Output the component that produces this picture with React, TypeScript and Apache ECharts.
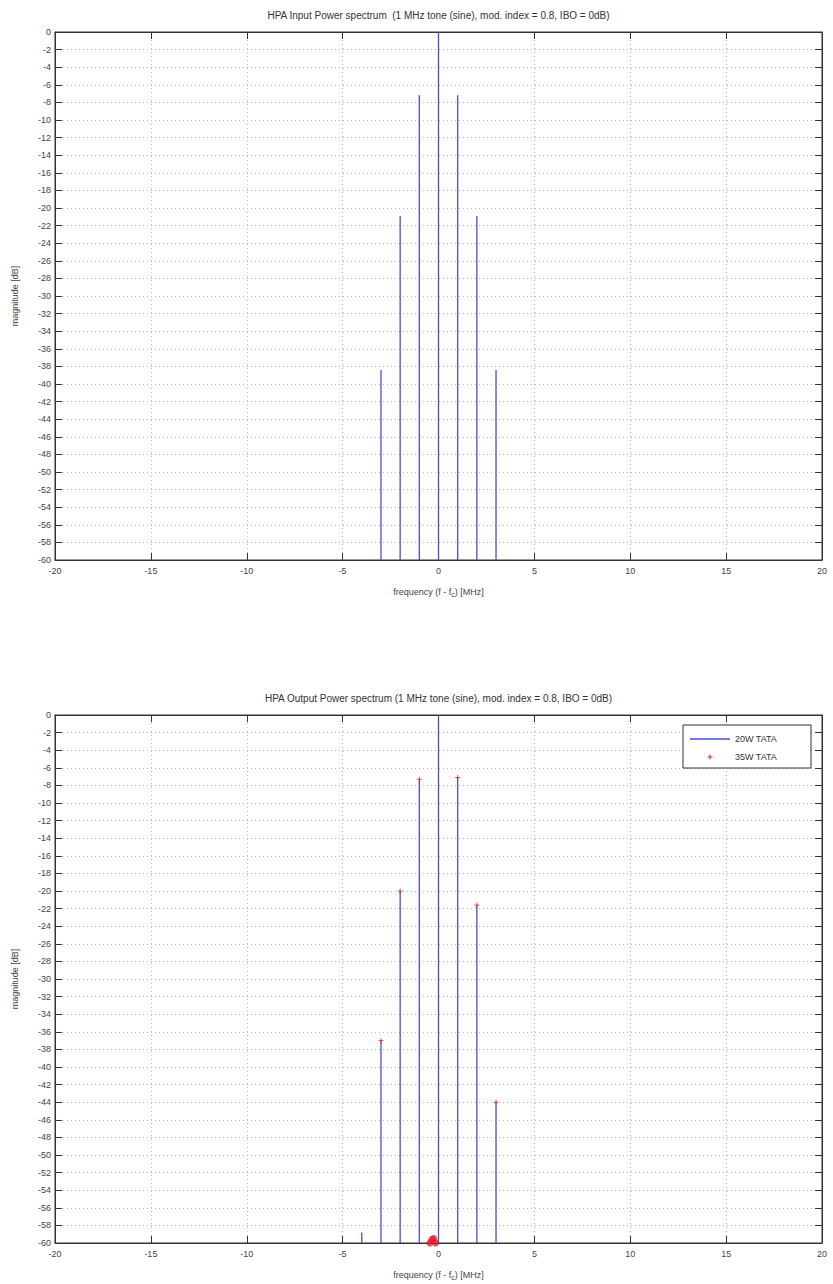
import React, { useEffect, useRef } from "react";
import * as echarts from "echarts";

// Input spectrum: tone lines (frequency offset in MHz, level in dB)
const inputFreqs = [-3, -2, -1, 0, 1, 2, 3];
const inputDb = [-38.4, -20.9, -7.2, 0, -7.2, -20.9, -38.4];

// Output spectrum, 20W TATA (stem lines)
const out20Freqs = [-4, -3, -2, -1, 0, 1, 2, 3];
const out20Db = [-58.8, -37.0, -20.0, -7.3, 0, -7.1, -21.6, -44.0];

// Output spectrum, 35W TATA (markers)
const out35Freqs = [-3, -2, -1, 1, 2, 3];
const out35Db = [-37.0, -20.0, -7.3, -7.1, -21.6, -44.0];

// 35W TATA points near the floor
const floorFreqs = [-0.45, -0.35, -0.25, -0.15];
const floorDb = [-60, -59.6, -59.5, -60];

const xMin = -20;
const xMax = 20;
const xStep = 5;
const yMin = -60;
const yMax = 0;
const yStep = 2;

const titles = [
  "HPA Input Power spectrum  (1 MHz tone (sine), mod. index = 0.8, IBO = 0dB)",
  "HPA Output Power spectrum (1 MHz tone (sine), mod. index = 0.8, IBO = 0dB)",
];
const legendNames = ["20W TATA", "35W TATA"];

const FONT = "'Liberation Sans', Arial, Helvetica, sans-serif";
const AXIS = "#333";
const LABEL = "#444";
const BLUE = "#4a4ae0";
const RED = "#e0202a";
const PLUS = "path://M2,0h1v2h2v1h-2v2h-1v-2h-2v-1h2z";

const GRID_LEFT = 55;
const GRID_W = 767;
const GRID_H = 528;
const TOPS = [32, 715];

export default function App() {
  const ref = useRef<HTMLDivElement>(null);

  useEffect(() => {
    if (!ref.current) return;
    const chart = echarts.init(ref.current, null, { renderer: "svg" });

    const grids = TOPS.map((t) => ({
      left: GRID_LEFT,
      top: t,
      width: GRID_W,
      height: GRID_H,
      show: true,
      borderColor: AXIS,
      borderWidth: 1,
      backgroundColor: "#fff",
    }));

    const xAxes: any[] = [];
    const yAxes: any[] = [];
    [0, 1].forEach((g) => {
      xAxes.push({
        type: "value",
        gridIndex: g,
        min: xMin,
        max: xMax,
        interval: xStep,
        position: "bottom",
        name: "{a|frequency (f - f}{s|c}{a|) [MHz]}",
        nameLocation: "middle",
        nameGap: 26,
        nameTextStyle: {
          rich: {
            a: { fontFamily: FONT, fontSize: 9, color: LABEL },
            s: { fontFamily: FONT, fontSize: 7, color: LABEL, padding: [5, 0, 0, 0] },
          },
        },
        axisLine: { show: true, onZero: false, lineStyle: { color: AXIS, width: 1 } },
        axisTick: { show: true, inside: true, length: 7, lineStyle: { color: AXIS } },
        axisLabel: { fontFamily: FONT, fontSize: 9, color: LABEL, margin: 6 },
        splitLine: { show: true, lineStyle: { color: "#b8b8b8", type: [1, 3], width: 1 } },
      });
      xAxes.push({
        type: "value",
        gridIndex: g,
        min: xMin,
        max: xMax,
        interval: xStep,
        position: "top",
        axisLine: { show: true, onZero: false, lineStyle: { color: AXIS, width: 1 } },
        axisTick: { show: true, inside: true, length: 7, lineStyle: { color: AXIS } },
        axisLabel: { show: false },
        splitLine: { show: false },
      });
      yAxes.push({
        type: "value",
        gridIndex: g,
        min: yMin,
        max: yMax,
        interval: yStep,
        position: "left",
        name: "magnitude [dB]",
        nameLocation: "middle",
        nameRotate: 90,
        nameGap: 36,
        nameTextStyle: { fontFamily: FONT, fontSize: 9, color: LABEL },
        axisLine: { show: true, onZero: false, lineStyle: { color: AXIS, width: 1 } },
        axisTick: { show: true, inside: true, length: 7, lineStyle: { color: AXIS } },
        axisLabel: { fontFamily: FONT, fontSize: 9, color: LABEL, margin: 4 },
        splitLine: { show: true, lineStyle: { color: "#b8b8b8", type: [1, 3], width: 1 } },
      });
      yAxes.push({
        type: "value",
        gridIndex: g,
        min: yMin,
        max: yMax,
        interval: yStep,
        position: "right",
        axisLine: { show: true, onZero: false, lineStyle: { color: AXIS, width: 1 } },
        axisTick: { show: true, inside: true, length: 7, lineStyle: { color: AXIS } },
        axisLabel: { show: false },
        splitLine: { show: false },
      });
    });

    // Vertical stem from the floor of the axis up to each level
    const stem = (params: any, api: any) => {
      const x = api.value(0);
      const y = api.value(1);
      const top = api.coord([x, y]);
      const base = api.coord([x, yMin]);
      return {
        type: "line",
        shape: { x1: top[0], y1: top[1], x2: base[0], y2: base[1] },
        style: { stroke: BLUE, lineWidth: 1.3 },
      };
    };

    const series: any[] = [
      {
        type: "custom",
        name: "input",
        xAxisIndex: 0,
        yAxisIndex: 0,
        renderItem: stem,
        encode: { x: 0, y: 1 },
        data: inputFreqs.map((f, i) => [f, inputDb[i]]),
      },
      {
        type: "custom",
        name: legendNames[0],
        xAxisIndex: 2,
        yAxisIndex: 2,
        renderItem: stem,
        encode: { x: 0, y: 1 },
        data: out20Freqs.map((f, i) => [f, out20Db[i]]),
      },
      {
        type: "scatter",
        name: legendNames[1],
        xAxisIndex: 2,
        yAxisIndex: 2,
        symbol: PLUS,
        symbolSize: 5,
        itemStyle: { color: RED },
        data: out35Freqs.map((f, i) => [f, out35Db[i]]),
      },
      {
        type: "scatter",
        name: legendNames[1] + " floor",
        xAxisIndex: 2,
        yAxisIndex: 2,
        symbol: "circle",
        symbolSize: 7,
        clip: false,
        itemStyle: { color: RED },
        data: floorFreqs.map((f, i) => [f, floorDb[i]]),
      },
    ];

    const cx = GRID_LEFT + GRID_W / 2;
    const lgX = 683;
    const lgY = 725;
    const graphic: any[] = [
      {
        type: "text",
        x: cx,
        y: 15,
        style: { text: titles[0], font: `10px ${FONT}`, fill: "#333", textAlign: "center", textVerticalAlign: "middle" },
      },
      {
        type: "text",
        x: cx,
        y: 698,
        style: { text: titles[1], font: `10px ${FONT}`, fill: "#333", textAlign: "center", textVerticalAlign: "middle" },
      },
      {
        type: "rect",
        shape: { x: lgX, y: lgY, width: 128, height: 43 },
        style: { fill: "#fff", stroke: AXIS, lineWidth: 1 },
        z: 10,
      },
      {
        type: "line",
        shape: { x1: lgX + 7, y1: lgY + 14, x2: lgX + 47, y2: lgY + 14 },
        style: { stroke: BLUE, lineWidth: 1.3 },
        z: 11,
      },
      {
        type: "line",
        shape: { x1: lgX + 24.5, y1: lgY + 32, x2: lgX + 29.5, y2: lgY + 32 },
        style: { stroke: RED, lineWidth: 1 },
        z: 11,
      },
      {
        type: "line",
        shape: { x1: lgX + 27, y1: lgY + 29.5, x2: lgX + 27, y2: lgY + 34.5 },
        style: { stroke: RED, lineWidth: 1 },
        z: 11,
      },
      {
        type: "text",
        x: lgX + 52,
        y: lgY + 14,
        style: { text: legendNames[0], font: `9px ${FONT}`, fill: "#333", textVerticalAlign: "middle" },
        z: 11,
      },
      {
        type: "text",
        x: lgX + 52,
        y: lgY + 32,
        style: { text: legendNames[1], font: `9px ${FONT}`, fill: "#333", textVerticalAlign: "middle" },
        z: 11,
      },
    ];

    chart.setOption({
      animation: false,
      backgroundColor: "#fff",
      grid: grids,
      xAxis: xAxes,
      yAxis: yAxes,
      series,
      graphic,
    });

    return () => chart.dispose();
  }, []);

  return (
    <div
      ref={ref}
      style={{ position: "absolute", left: 0, top: 0, width: 833, height: 1284, background: "#fff" }}
    />
  );
}
